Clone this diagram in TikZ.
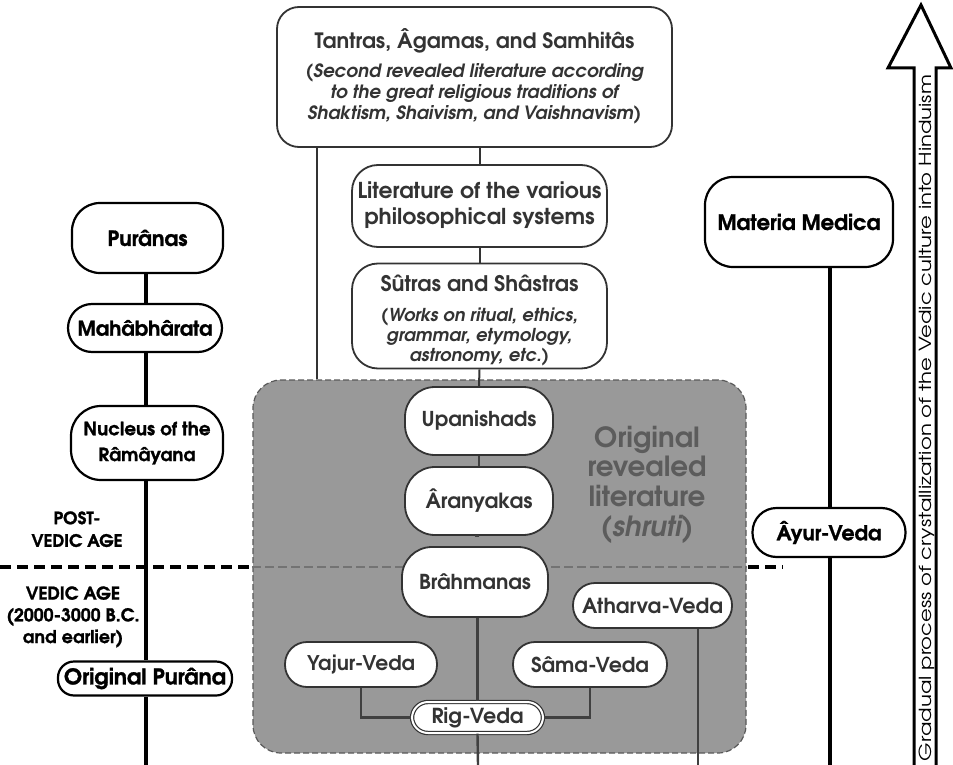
\documentclass[tikz,border=0pt]{standalone}
\usepackage{fontspec}
\usepackage{graphicx}
\setmainfont{texgyreadventor-regular.otf}[BoldFont=texgyreadventor-bold.otf, ItalicFont=texgyreadventor-italic.otf, BoldItalicFont=texgyreadventor-bolditalic.otf]
\newfontfamily\advb{texgyreadventor-bold.otf}
\newfontfamily\advbi{texgyreadventor-bolditalic.otf}
\newfontfamily\advheavy{texgyreadventor-bold.otf}[FakeBold=1.2]
\newcommand{\fitw}[2]{\resizebox{#1pt}{!}{#2}}
\newcommand{\lines}[1]{\begin{tabular}{@{}c@{}}#1\end{tabular}}
\usetikzlibrary{calc}
\definecolor{ink}{gray}{0.2}
\definecolor{boxgray}{gray}{0.6}
\definecolor{txtgray}{gray}{0.36}
\tikzset{
  box/.style={draw=ink, line width=1.8pt, fill=white, rounded corners=#1, inner sep=0pt, align=center, text=ink, font=\advb\fontsize{20}{22}\selectfont},
  blackbox/.style={draw=black, line width=2.2pt, fill=white, rounded corners=#1, inner sep=0pt, align=center, text=black, font=\advheavy\fontsize{20}{22}\selectfont},
  sz/.style 2 args={minimum width=#1pt, minimum height=#2pt},
  link/.style={draw=ink, line width=2pt},
  inlink/.style={draw=black!75, line width=2.4pt},
  thickline/.style={draw=black, line width=3.4pt},
  eraline/.style={draw=black, line width=3.5pt, dash pattern=on 11pt off 6pt},
  label/.style={align=center, text=black, inner sep=0pt}
}
\begin{document}
\begin{tikzpicture}[x=1pt,y=-1pt]
\useasboundingbox (0,0) rectangle (953,765);
% era line
\coordinate (dl) at (0,567);
\coordinate (dr) at (783,567);
\draw[eraline] (dl) -- (dr);
% shruti gray area
\node[draw=black!65, dash pattern=on 6pt off 3pt, line width=1.2pt, fill=boxgray, rounded corners=28pt, sz={493}{373}] (shruti) at (499.5,566.5) {};
\draw[line width=2.6pt, black!55, dash pattern=on 9pt off 4pt] (shruti.west |- dl) -- (shruti.east |- dl);
\node[text=txtgray, inner sep=0pt] (shrutitext) at (647,486)
  {\fitw{119}{\advb\fontsize{28}{29.5}\selectfont\lines{Original\\revealed\\literature\\({\advbi shruti})}}};

% upper center boxes
\node[box=22pt, sz={395}{140}] (tantras) at (474.5,77)
  {\rule{0pt}{19pt}\fitw{320}{\advb Tantras, Âgamas, and Samhitâs}\\[9pt]
   \fitw{338}{\advbi\fontsize{18}{20.5}\selectfont\lines{(Second revealed literature according\\
   to the great religious traditions of\\
   Shaktism, Shaivism, and Vaishnavism)}}};
\node[box=26pt, sz={255}{82}] (lit) at (479.5,206)
  {\rule{0pt}{19pt}\fitw{244}{\advb\fontsize{21}{25}\selectfont\lines{Literature of the various\\philosophical systems}}};
\node[box=26pt, sz={255}{105}] (sutras) at (479.5,316)
  {\rule{0pt}{27pt}\fitw{198}{\advb Sûtras and Shâstras}\\[15pt]
   \fitw{197}{\advbi\fontsize{17.5}{19.5}\selectfont\lines{(Works on ritual, ethics,\\
   grammar, etymology,\\
   astronomy, etc.)}}};

% vedic boxes
\node[box=30pt, sz={148}{68}] (upan) at (479,421) {\fitw{115}{\advb Upanishads}};
\node[box=30pt, sz={148}{68}] (aran) at (479,501) {\fitw{107}{\advb Âranyakas}};
\node[box=30pt, sz={146}{70}] (brah) at (475,582) {\fitw{112}{\advb Brâhmanas}};
\node[box=22pt, sz={159}{45}] (athar) at (652.5,605.5) {\fitw{141}{\advb Atharva-Veda}};
\node[box=22pt, sz={152}{45}] (yajur) at (361,664.5) {\fitw{108}{\advb Yajur-Veda}};
\node[box=22pt, sz={154}{45}] (sama) at (590,664.5) {\fitw{118}{\advb Sâma-Veda}};
\node[box=16pt, sz={131}{31}, double=white, double distance=2pt, line width=1.2pt] (rig) at (477.5,717.5) {\fitw{92}{\advb Rig-Veda}};

% left column
\node[blackbox=28pt, sz={151}{70}] (puranas) at (147.5,238) {\fitw{80}{\advheavy Purânas}};
\node[blackbox=24pt, sz={154}{48}] (maha) at (145,328) {\fitw{135}{\advheavy Mahâbhârata}};
\node[blackbox=30pt, sz={152}{74}] (nucleus) at (147,443)
  {\rule{0pt}{30pt}\fitw{127}{\advheavy\fontsize{17}{24}\selectfont\lines{Nucleus of the\\Râmâyana}}};
\node[blackbox=16pt, sz={174}{34}] (origpur) at (145,678.5) {\fitw{162}{\advheavy Original Purâna}};
\node[label] (postvedic) at (77,531)
  {\fitw{91}{\advheavy\fontsize{17}{22.5}\selectfont\lines{POST-\\VEDIC AGE}}};
\node[label] (vedic) at (73,617)
  {\fitw{133}{\advheavy\fontsize{17.5}{21.5}\selectfont\lines{VEDIC AGE\\(2000-3000 B.C.\\and earlier)}}};

% right column
\node[blackbox=28pt, sz={188}{90}] (materia) at (799,222) {\fitw{163}{\advheavy Materia Medica}};
\node[blackbox=24pt, sz={153}{49}] (ayur) at (829,532.5) {\fitw{105}{\advheavy Âyur-Veda}};

% connectors
\coordinate (tl) at (317,380);
\coordinate (rigend) at (478,765);
\coordinate (athend) at (698,765);
\coordinate (leftend) at (146,765);
\coordinate (rightend) at (830,765);
\draw[link] (tantras.south -| tl) -- (tl |- shruti.north);
\draw[link] (tantras.south -| lit.north) -- (lit.north);
\draw[link] (lit.south) -- (sutras.north);
\draw[link] (sutras.south) -- (upan.north);
\draw[inlink] (upan.south) -- (aran.north);
\draw[inlink] (aran.south) -- (brah.south |- aran.south);
\draw[inlink] (brah.south -| rig.north) -- (rig.north);
\draw[inlink] (yajur.south) |- (rig.west);
\draw[inlink] (sama.south) |- (rig.east);
\draw[inlink] (rig.south) -- (rigend);
\draw[inlink] (athar.south -| athend) -- (athend);
\draw[thickline] (puranas.south -| leftend) -- (maha.north -| leftend);
\draw[thickline] (maha.south -| leftend) -- (nucleus.north -| leftend);
\draw[thickline] (nucleus.south -| leftend) -- (origpur.north -| leftend);
\draw[thickline] (origpur.south -| leftend) -- (leftend);
\draw[thickline] (materia.south -| rightend) -- (ayur.north -| rightend);
\draw[thickline] (ayur.south -| rightend) -- (rightend);

% big arrow
\draw[line width=3pt, fill=white, line join=miter] (914,766) -- (914,68) -- (888,68) -- (921,5) -- (951,68) -- (936,68) -- (936,766);
\node[rotate=90, anchor=base, inner sep=0pt] (arrowtext) at (931,418)
  {\resizebox{686pt}{12.5pt}{Gradual process of crystallization of the Vedic culture into Hinduism}};
\end{tikzpicture}
\end{document}
